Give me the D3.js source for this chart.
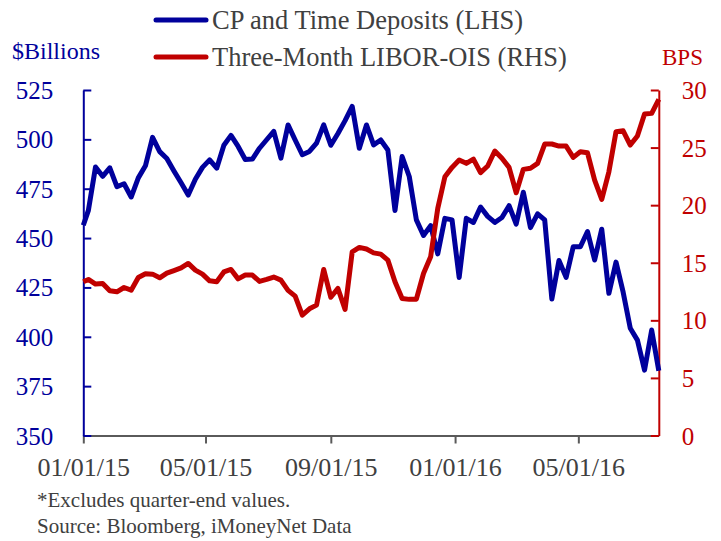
<!DOCTYPE html>
<html>
<head>
<meta charset="utf-8">
<script src="https://cdn.jsdelivr.net/npm/d3@7"></script>
<style>
  html, body { margin: 0; padding: 0; background: #fff; }
  svg { display: block; font-family: "Liberation Serif", "Times New Roman", serif; }
  svg text { font-family: "Liberation Serif", "Times New Roman", serif; }
</style>
</head>
<body>
<svg id="chart" width="721" height="541"></svg>
<script>
// ---- Data ----
const dates = [
  "2015-01-01",
  "2015-01-06","2015-01-13","2015-01-20","2015-01-27",
  "2015-02-03","2015-02-10","2015-02-17","2015-02-24",
  "2015-03-03","2015-03-10","2015-03-17","2015-03-24","2015-03-31",
  "2015-04-07","2015-04-14","2015-04-21","2015-04-28",
  "2015-05-05","2015-05-12","2015-05-19","2015-05-26",
  "2015-06-02","2015-06-09","2015-06-16","2015-06-23","2015-06-30",
  "2015-07-07","2015-07-14","2015-07-21","2015-07-28",
  "2015-08-04","2015-08-11","2015-08-18","2015-08-25",
  "2015-09-01","2015-09-08","2015-09-15","2015-09-22","2015-09-29",
  "2015-10-06","2015-10-13","2015-10-20","2015-10-27",
  "2015-11-03","2015-11-10","2015-11-17","2015-11-24",
  "2015-12-01","2015-12-08","2015-12-15","2015-12-22","2015-12-29",
  "2016-01-05","2016-01-12","2016-01-19","2016-01-26",
  "2016-02-02","2016-02-09","2016-02-16","2016-02-23",
  "2016-03-01","2016-03-08","2016-03-15","2016-03-22","2016-03-29",
  "2016-04-05","2016-04-12","2016-04-19","2016-04-26",
  "2016-05-03","2016-05-10","2016-05-17","2016-05-24","2016-05-31",
  "2016-06-07","2016-06-14","2016-06-21","2016-06-28",
  "2016-07-05","2016-07-12","2016-07-19"
];

// CP and Time Deposits ($Billions, LHS)
const cpTimeDeposits = [
  456.5,
  464, 486, 481.3, 485.6,
  476, 477.5, 470.8, 480.5,
  486.6, 501, 493.8, 490.3, 484,
  478, 471.8, 479.8, 485.8,
  489.6, 485.4, 497, 502,
  496.4, 489.8, 490, 495.5, 499.8,
  504, 490.5, 507.3, 499.7,
  492.2, 493.9, 498.1, 507.3,
  497, 503, 509.5, 516.7, 495.5,
  507.3, 497.2, 499.7, 494.6,
  464, 491.3, 481.2, 459.2,
  451.3, 456.3, 442, 460, 459.2,
  430, 460, 457.9, 465.7,
  461, 457.9, 460.4, 466.4,
  457.1, 473.2, 455.3, 462.3, 459.2,
  419.1, 438.6, 430.1, 445.6,
  445.6, 453.3, 438.9, 454.5, 422,
  437.8, 422.6, 404.3, 398.3,
  383.1, 403.4, 382.8
];

// Three-Month LIBOR-OIS (BPS, RHS)
const liborOis = [
  13.35,
  13.55, 13.15, 13.2, 12.56,
  12.48, 12.85, 12.62, 13.72,
  14.05, 14.01, 13.69, 14.1, 14.32,
  14.55, 14.94, 14.36, 14.01,
  13.43, 13.35, 14.2, 14.42,
  13.6, 13.93, 13.93, 13.38, 13.55,
  13.76, 13.49, 12.6, 12.1,
  10.45, 11.0, 11.32, 14.42,
  12.0, 12.77, 10.95, 15.95, 16.33,
  16.19, 15.86, 15.75, 15.23,
  13.35, 11.9, 11.82, 11.84,
  14.07, 15.52, 19.72, 22.47, 23.28,
  23.92, 23.63, 24.0, 22.82,
  23.4, 24.7, 24.07, 23.28,
  21.08, 23.11, 23.2, 23.63, 25.31,
  25.31, 25.13, 25.13, 24.15,
  24.64, 24.55, 22.18, 20.5, 22.9,
  26.38, 26.46, 25.22, 26.0,
  27.91, 27.97, 29.19
];

const xTickDates = ["2015-01-01","2015-05-01","2015-09-01","2016-01-01","2016-05-01"];
const leftTicks = [350, 375, 400, 425, 450, 475, 500, 525];
const rightTicks = [0, 5, 10, 15, 20, 25, 30];
const seriesNames = ["CP and Time Deposits (LHS)", "Three-Month LIBOR-OIS (RHS)"];
const leftTitle = "$Billions";
const rightTitle = "BPS";
const notes = ["*Excludes quarter-end values.", "Source: Bloomberg, iMoneyNet Data"];

// ---- Styling ----
const FONT = "Liberation Serif, Times New Roman, serif";
const BLUE = "#00009C";
const RED = "#C00000";
const GRAY = "#404040";
const AXISGRAY = "#5a5a5a";

const parse = d3.timeParse("%Y-%m-%d");
const fmt = d3.timeFormat("%m/%d/%y");

const svg = d3.select("#chart");

const plotLeft = 83.3, plotRight = 658.8, plotTop = 90, plotBottom = 435.5;

const x = d3.scaleTime()
  .domain([parse("2015-01-01"), parse("2016-07-19")])
  .range([plotLeft, plotRight]);
const yL = d3.scaleLinear().domain([350, 525]).range([plotBottom, plotTop]);
const yR = d3.scaleLinear().domain([0, 30]).range([plotBottom, plotTop]);

const blueData = dates.map((d, i) => ({ d: parse(d), v: cpTimeDeposits[i] }));
const redData = dates.map((d, i) => ({ d: parse(d), v: liborOis[i] }));

// Bottom axis
const gx = svg.append("g")
  .attr("transform", `translate(0,${plotBottom})`)
  .call(d3.axisBottom(x)
    .tickValues(xTickDates.map(parse))
    .tickFormat(fmt)
    .tickSizeInner(8)
    .tickSizeOuter(0))
  .attr("font-family", FONT)
  .attr("font-size", 26);
gx.select(".domain").attr("stroke", AXISGRAY).attr("stroke-width", 2);
gx.selectAll(".tick line").attr("stroke", AXISGRAY).attr("stroke-width", 2);
gx.selectAll(".tick text")
  .attr("y", 40).attr("dy", 0)
  .attr("fill", GRAY);

// Left axis
const gl = svg.append("g")
  .attr("transform", `translate(${plotLeft},0)`)
  .call(d3.axisLeft(yL)
    .tickValues(leftTicks)
    .tickSizeInner(-8)
    .tickSizeOuter(0)
    .tickPadding(30))
  .attr("font-family", FONT)
  .attr("font-size", 25);
gl.select(".domain").attr("stroke", BLUE).attr("stroke-width", 2);
gl.selectAll(".tick line").attr("stroke", BLUE).attr("stroke-width", 2);
gl.selectAll(".tick text")
  .attr("fill", BLUE)
  .attr("dy", "0.34em");

// Right axis
const gr = svg.append("g")
  .attr("transform", `translate(${plotRight},0)`)
  .call(d3.axisRight(yR)
    .tickValues(rightTicks)
    .tickSizeInner(-8)
    .tickSizeOuter(0)
    .tickPadding(23))
  .attr("font-family", FONT)
  .attr("font-size", 25);
gr.select(".domain").attr("stroke", RED).attr("stroke-width", 2);
gr.selectAll(".tick line").attr("stroke", RED).attr("stroke-width", 2);
gr.selectAll(".tick text")
  .attr("fill", RED)
  .attr("dy", "0.34em");

// Lines
const lineL = d3.line().x(d => x(d.d)).y(d => yL(d.v));
const lineR = d3.line().x(d => x(d.d)).y(d => yR(d.v));

svg.append("path")
  .datum(blueData)
  .attr("d", lineL)
  .attr("fill", "none")
  .attr("stroke", BLUE)
  .attr("stroke-width", 5)
  .attr("stroke-linejoin", "round");

svg.append("path")
  .datum(redData)
  .attr("d", lineR)
  .attr("fill", "none")
  .attr("stroke", RED)
  .attr("stroke-width", 5)
  .attr("stroke-linejoin", "round");

// Axis titles
svg.append("text").attr("x", 12).attr("y", 59)
  .attr("fill", BLUE).style("font-size", "24px").text(leftTitle);
svg.append("text").attr("x", 662).attr("y", 65)
  .attr("fill", RED).style("font-size", "23px").text(rightTitle);

// Legend
const legend = svg.append("g");
const legendColors = [BLUE, RED];
const legendY = [20, 57];
seriesNames.forEach((name, i) => {
  legend.append("line")
    .attr("x1", 156).attr("x2", 206)
    .attr("y1", legendY[i]).attr("y2", legendY[i])
    .attr("stroke", legendColors[i])
    .attr("stroke-width", 5)
    .attr("stroke-linecap", "round");
  legend.append("text")
    .attr("x", 212).attr("y", legendY[i] + 9)
    .attr("fill", GRAY)
    .style("font-size", "26.5px")
    .text(name);
});

// Notes
notes.forEach((t, i) => {
  svg.append("text")
    .attr("x", 37).attr("y", 507 + i * 26)
    .attr("fill", GRAY)
    .style("font-size", "21px")
    .text(t);
});
</script>
</body>
</html>
